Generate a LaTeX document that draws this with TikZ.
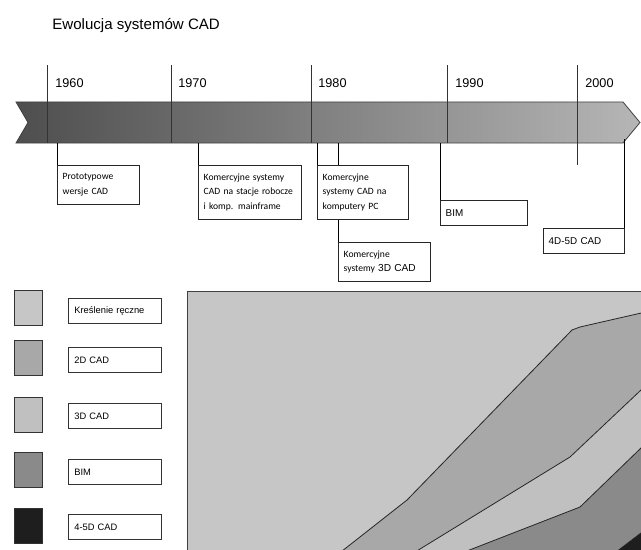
\documentclass[tikz,border=0pt]{standalone}
\usepackage{fontspec}
\setmainfont{Liberation Sans}
\newfontfamily\carlito{Carlito}
\usetikzlibrary{positioning}

\definecolor{tldark}{RGB}{78,78,78}
\definecolor{tllight}{RGB}{182,182,182}
\definecolor{handcol}{RGB}{198,198,198}
\definecolor{cadtwo}{RGB}{168,168,168}
\definecolor{cadthree}{RGB}{192,192,192}
\definecolor{bimcol}{RGB}{138,138,138}
\definecolor{cadfour}{RGB}{30,30,30}

\tikzset{
  yearline/.style={draw=black!80},
  year/.style={anchor=base west, inner sep=0pt, font=\fontsize{9.5}{11}\selectfont},
  evbox/.style={draw=black!85, fill=white, anchor=north west, inner xsep=4pt, inner ysep=3pt,
    align=left, font=\carlito\fontsize{7.2}{10.8}\selectfont},
  swatch/.style={draw=black!80, anchor=north west, minimum width=21pt, minimum height=26.25pt, inner sep=0pt},
  legbox/.style={draw=black!80, fill=white, anchor=north west, minimum height=18.75pt,
    text width=60.75pt, inner xsep=4.5pt, align=left, font=\fontsize{7}{8}\selectfont},
}

\begin{document}
\begin{tikzpicture}[x=0.75pt, y=-0.75pt, semithick]
\useasboundingbox (0,0) rectangle (641,549);

\node[anchor=base west, inner sep=0pt, font=\fontsize{11.3}{13}\selectfont] (title) at (52,29.5) {Ewolucja systemów CAD};

% os czasu
\path[draw=black!75, left color=tldark, right color=tllight]
  (16,102) -- (623,102) -- (640,122.5) -- (623,143) -- (16,143) -- (28,122.5) -- cycle;
\coordinate (tlb) at (0,143);
\coordinate (tli) at (0,139);

\draw[yearline] (47,65) -- (47,143);   \node[year] (y1960) at (55,88) {1960};
\draw[yearline] (171,65) -- (171,143); \node[year] (y1970) at (178,88) {1970};
\draw[yearline] (311,65) -- (311,143); \node[year] (y1980) at (318,88) {1980};
\draw[yearline] (447,65) -- (447,143); \node[year] (y1990) at (455,88) {1990};
\draw[yearline] (577,65) -- (577,165); \node[year] (y2000) at (585,88) {2000};

% zdarzenia
\node[evbox, text width=53.5pt, minimum height=29.25pt] (proto) at (57,165) {Prototypowe\\wersje CAD};
\draw (proto.north west) -- (proto.north west |- tlb);

\node[evbox, text width=69.25pt, minimum height=40.5pt] (stacje) at (198,165) {Komercyjne systemy\\CAD na stacje robocze\\i komp. mainframe};
\draw (stacje.north west) -- (stacje.north west |- tlb);

\node[evbox, text width=61pt, minimum height=29.25pt] (cad3d) at (338,242) {Komercyjne\\systemy {\rmfamily\fontsize{7.6}{10.8}\selectfont 3D CAD}};
\draw (cad3d.north west) -- (cad3d.north west |- tlb);

\node[evbox, text width=60.25pt, minimum height=40.5pt] (pc) at (317,165) {Komercyjne\\systemy CAD na\\komputery PC};
\draw (pc.north west) -- (pc.north west |- tlb);

\node[evbox, text width=57.25pt, minimum height=18.75pt, font=\fontsize{7.4}{9}\selectfont] (bim) at (440,200) {BIM};
\draw (bim.north west) -- (bim.north west |- tlb);

\node[evbox, text width=52.75pt, minimum height=18.75pt, font=\fontsize{7.4}{9}\selectfont] (cad45) at (543,228) {4D-5D CAD};
\draw (cad45.north east) -- (cad45.north east |- tli);

% legenda
\node[swatch, fill=handcol] (sw1) at (14,290) {};
\node[legbox] (lab1) at (68,298) {Kreślenie ręczne};
\node[swatch, fill=cadtwo] (sw2) at (14,340) {};
\node[legbox] (lab2) at (68,347) {2D CAD};
\node[swatch, fill=cadthree] (sw3) at (14,397) {};
\node[legbox] (lab3) at (68,403) {3D CAD};
\node[swatch, fill=bimcol] (sw4) at (14,452) {};
\node[legbox] (lab4) at (68,459) {BIM};
\node[swatch, fill=cadfour] (sw5) at (14,508) {};
\node[legbox] (lab5) at (68,514) {4-5D CAD};

% wykres
\begin{scope}
\clip (0,0) rectangle (641,549);
\filldraw[fill=handcol, draw=black!75] (187,291) rectangle (660,570);
\filldraw[fill=cadtwo, draw=black!85] (337,555) -- (407,500) -- (572,330) -- (580,327) -- (650,311) -- (650,570) -- (330,570) -- cycle;
\filldraw[fill=cadthree, draw=black!85] (402,560) -- (420,549) -- (570,457) -- (641,390) -- (650,381.5) -- (650,570) -- (402,570) -- cycle;
\filldraw[fill=bimcol, draw=black!85] (444,560) -- (472,549) -- (580,507) -- (641,448) -- (650,439) -- (650,570) -- (444,570) -- cycle;
\filldraw[fill=cadfour, draw=black!85] (605.6,560) -- (620,549) -- (641,533) -- (650,526) -- (650,570) -- (605.6,570) -- cycle;
\end{scope}
\end{tikzpicture}
\end{document}
